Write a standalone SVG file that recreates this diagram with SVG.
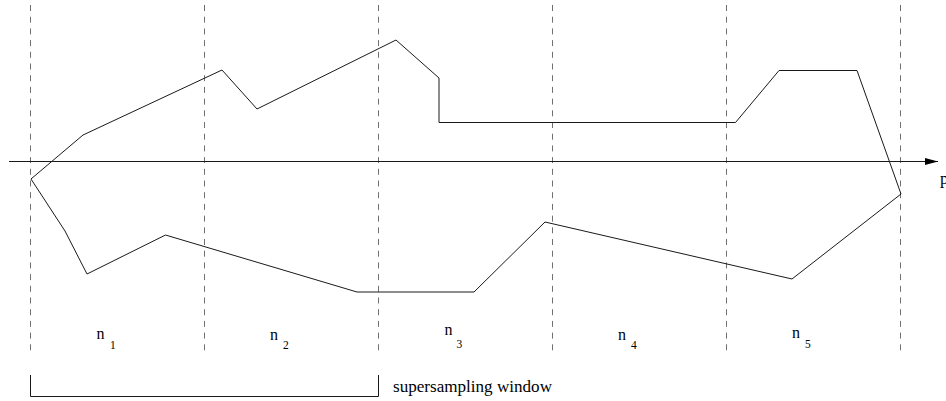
<svg xmlns="http://www.w3.org/2000/svg" width="946" height="401" viewBox="0 0 946 401">
<style>
.grid{stroke:#707070;stroke-width:1;stroke-dasharray:6 5.7;fill:none}
.ln{stroke:#1a1a1a;stroke-width:1;fill:none}
.lbl{font-family:"Liberation Serif","Times New Roman",serif;font-size:16px;fill:#000}
.sub{font-family:"Liberation Serif","Times New Roman",serif;font-size:11.5px;fill:#000}
.cap{font-family:"Liberation Serif","Times New Roman",serif;font-size:17px;fill:#000}
</style>
<defs>
<marker id="arr" markerWidth="14" markerHeight="8" refX="13" refY="3.5" orient="auto" markerUnits="userSpaceOnUse">
<path d="M0,0 L13,3.5 L0,7 Z" fill="#000"/>
</marker>
</defs>
<g id="grid">
<line class="grid" x1="30.5" y1="5" x2="30.5" y2="354"/>
<line class="grid" x1="204.5" y1="5" x2="204.5" y2="354"/>
<line class="grid" x1="378.5" y1="5" x2="378.5" y2="354"/>
<line class="grid" x1="552.5" y1="5" x2="552.5" y2="354"/>
<line class="grid" x1="726.5" y1="5" x2="726.5" y2="354"/>
<line class="grid" x1="900.5" y1="5" x2="900.5" y2="354"/>
</g>
<g id="connectors">
<line id="axis" class="ln" x1="9" y1="161.5" x2="938" y2="161.5" marker-end="url(#arr)"/>
</g>
<g id="shape">
<polygon class="ln" points="31,179 83,135 222,70 257,109 396,40 439,78 439,122.5 735.5,122.5 779,70.5 857,70.5 901,194 792,279 545,222 474,292 357,292 165.5,235 87,274 65,231"/>
</g>
<g id="axis-label"><text class="cap" x="940" y="184">p</text></g>
<g id="n1"><text class="lbl" x="96.5" y="339">n</text><text class="sub" x="110" y="349">1</text></g>
<g id="n2"><text class="lbl" x="270" y="340">n</text><text class="sub" x="283" y="349">2</text></g>
<g id="n3"><text class="lbl" x="444.5" y="335">n</text><text class="sub" x="456.5" y="348">3</text></g>
<g id="n4"><text class="lbl" x="618" y="340">n</text><text class="sub" x="631" y="349">4</text></g>
<g id="n5"><text class="lbl" x="792" y="338">n</text><text class="sub" x="805" y="348">5</text></g>
<g id="window">
<polyline class="ln" points="30.5,375 30.5,396.5 378.5,396.5 378.5,375"/>
<text class="cap" x="393" y="392" textLength="159" lengthAdjust="spacingAndGlyphs">supersampling window</text>
</g>
</svg>
